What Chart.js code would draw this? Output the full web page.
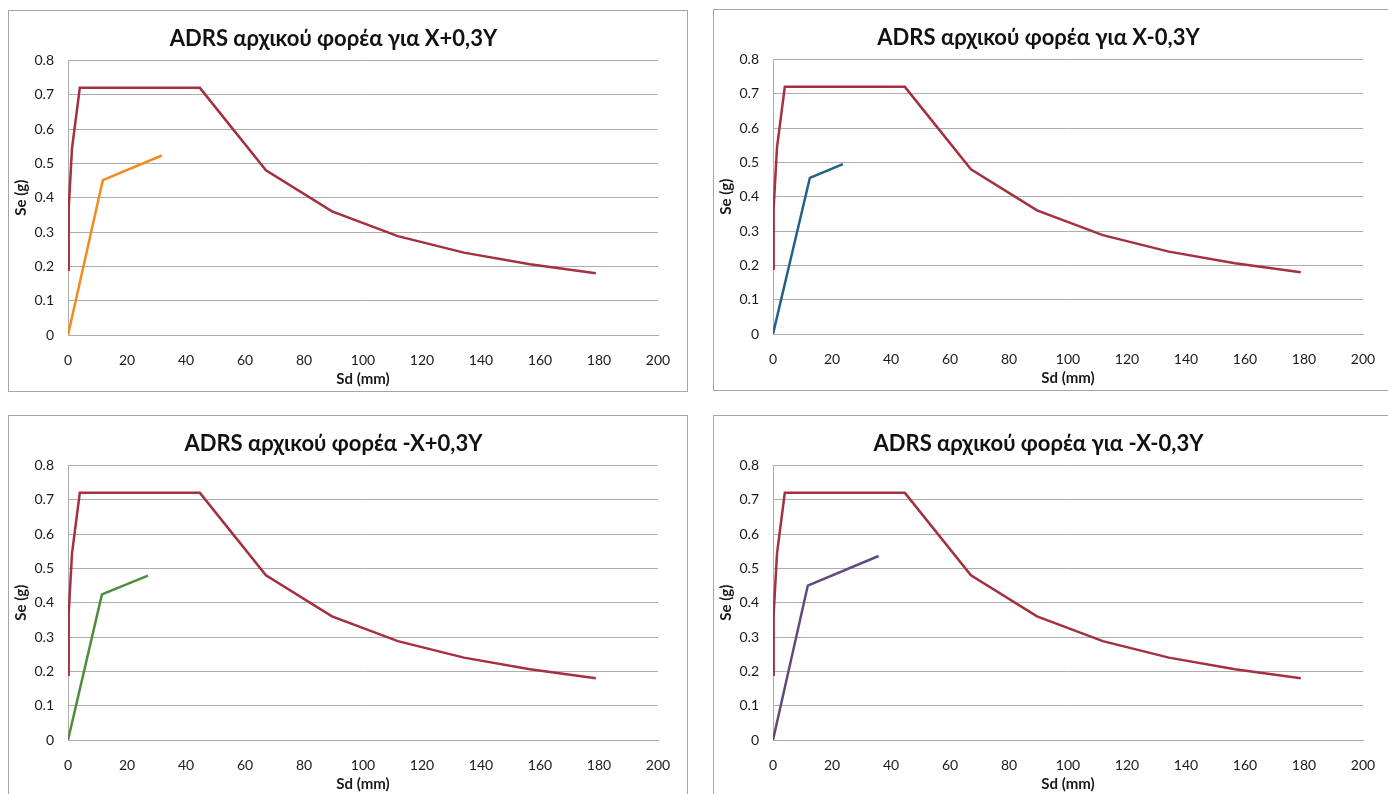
<!DOCTYPE html>
<html>
<head>
<meta charset="utf-8">
<script src="https://cdn.jsdelivr.net/npm/chart.js@4"></script>
<style>
  body { margin: 0; width: 1388px; height: 794px; overflow: hidden; background: #fff; }
  .panel { position: absolute; width: 680px; height: 382px; border: 1px solid #a6a6a6; box-sizing: border-box; background: #fff; }
</style>
</head>
<body>
<div class="panel" style="left:8px; top:10px;"><canvas id="c1"></canvas></div>
<div class="panel" style="left:713px; top:9px;"><canvas id="c2"></canvas></div>
<div class="panel" style="left:8px; top:415px;"><canvas id="c3"></canvas></div>
<div class="panel" style="left:713px; top:415px;"><canvas id="c4"></canvas></div>
<script>
// demand spectrum (same in every chart)
const demandSd = [0, 0.23, 1.35, 4.0, 44.7, 67.1, 89.5, 111.8, 134.2, 156.6, 178.9]
const demandSe = [0.19, 0.367, 0.543, 0.72, 0.72, 0.48, 0.36, 0.288, 0.24, 0.206, 0.18]

// capacity curves
const capSd1 = [0, 11.8, 31.8]
const capSe1 = [0, 0.451, 0.523]
const capSd2 = [0, 12.5, 23.7]
const capSe2 = [0, 0.455, 0.495]
const capSd3 = [0, 11.5, 27.1]
const capSe3 = [0, 0.424, 0.479]
const capSd4 = [0, 11.8, 35.8]
const capSe4 = [0, 0.45, 0.536]

const titles = [
  'ADRS αρχικού φορέα για X+0,3Y',
  'ADRS αρχικού φορέα για X-0,3Y',
  'ADRS αρχικού φορέα -X+0,3Y',
  'ADRS αρχικού φορέα για -X-0,3Y'
]
const capColors = ['#f28b1e', '#235f87', '#4f8b3d', '#604a7d']
const demandColor = '#a5303f'

const xTitle = 'Sd (mm)'
const yTitle = 'Se (g)'

const FONT = 'Lato, "Open Sans", sans-serif'
const gridColor = '#adadad'

function pts(xs, ys) {
  return xs.map((x, i) => ({ x: x, y: ys[i] }))
}

const caps = [[capSd1, capSe1], [capSd2, capSe2], [capSd3, capSe3], [capSd4, capSe4]]

caps.forEach(([sd, se], i) => {
  const canvas = document.getElementById('c' + (i + 1))
  new Chart(canvas, {
    type: 'scatter',
    data: {
      datasets: [
        {
          data: pts(demandSd, demandSe),
          showLine: true,
          borderColor: demandColor,
          borderWidth: 2.5,
          pointRadius: 0,
          tension: 0
        },
        {
          data: pts(sd, se),
          showLine: true,
          borderColor: capColors[i],
          borderWidth: 2.5,
          pointRadius: 0,
          tension: 0
        }
      ]
    },
    options: {
      responsive: true,
      maintainAspectRatio: false,
      animation: false,
      layout: { padding: { left: 0, right: 29, top: 0, bottom: 0 } },
      scales: {
        x: {
          type: 'linear',
          min: 0,
          max: 200,
          ticks: { stepSize: 20, padding: 9, color: '#1a1a1a', font: { family: FONT, size: 14 } },
          grid: { display: false },
          border: { display: true, color: gridColor },
          title: { display: true, text: xTitle, color: '#1a1a1a', font: { family: FONT, size: 15, weight: 'bold' }, padding: { top: 0, bottom: 3 } },
          afterFit: s => { s.height = 56 }
        },
        y: {
          min: 0,
          max: 0.8,
          ticks: {
            stepSize: 0.1,
            padding: 14,
            color: '#1a1a1a',
            font: { family: FONT, size: 14 },
            callback: v => v === 0 ? '0' : v.toFixed(1)
          },
          grid: { color: gridColor, drawTicks: false },
          border: { display: true, color: gridColor },
          title: { display: true, text: yTitle, color: '#1a1a1a', font: { family: FONT, size: 15, weight: 'bold' }, padding: { top: 3, bottom: 0 } },
          afterFit: s => { s.width = 59 }
        }
      },
      plugins: {
        legend: { display: false },
        tooltip: { enabled: false },
        title: {
          display: true,
          text: titles[i],
          color: '#111',
          font: { family: FONT, size: 22, weight: 'bold' },
          padding: { top: 15, bottom: 8 }
        }
      }
    }
  })
})
</script>
</body>
</html>
